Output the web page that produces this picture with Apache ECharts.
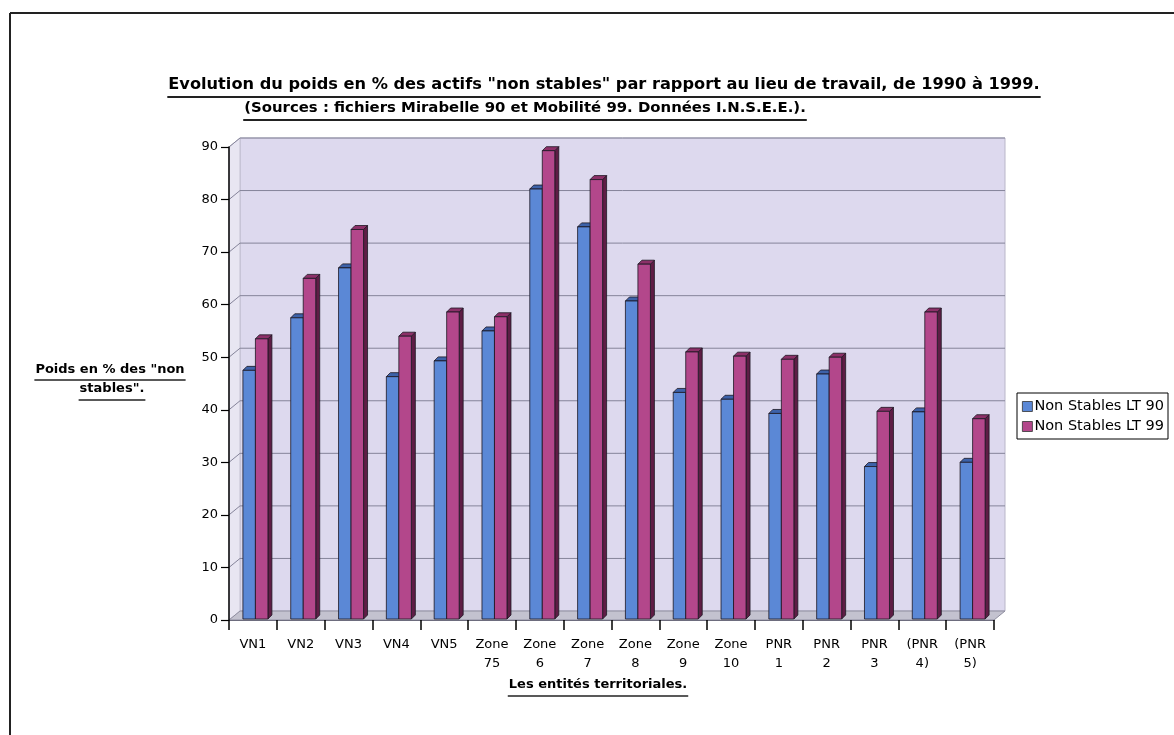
<!DOCTYPE html>
<html>
<head>
<meta charset="utf-8">
<script src="https://cdn.jsdelivr.net/npm/echarts@6/dist/echarts.min.js"></script>
<style>html,body{margin:0;padding:0;background:#fff}#c{width:1174px;height:735px}</style>
</head>
<body>
<div id="c"></div>
<script>
const categories = ['VN1','VN2','VN3','VN4','VN5','Zone\n75','Zone\n6','Zone\n7','Zone\n8','Zone\n9','Zone\n10','PNR\n1','PNR\n2','PNR\n3','(PNR\n4)','(PNR\n5)'];
const lt90 = [47.5,57.5,67,46.3,49.3,55,82,74.8,60.7,43.3,42,39.3,46.8,29.2,39.6,30];
const lt99 = [53.5,65,74.3,54,58.6,57.7,89.3,83.8,67.7,51,50.2,49.6,50,39.7,58.6,38.3];
const yTicks = [0,10,20,30,40,50,60,70,80,90];
const seriesNames = ['Non Stables LT 90','Non Stables LT 99'];
const titleLines = ['Evolution du poids en % des actifs "non stables" par rapport au lieu de travail, de 1990 à 1999.','(Sources : fichiers Mirabelle 90 et Mobilité 99. Données I.N.S.E.E.).'];
const yNameLines = ['Poids en % des "non','stables".'];
const xName = 'Les entités territoriales.';

const FONT = "'DejaVu Sans', Verdana, sans-serif";
const chart = echarts.init(document.getElementById('c'));
const DX = 11, DY = 9;

const ctx = document.createElement('canvas').getContext('2d');
function textW(t, f){ ctx.font = f; return ctx.measureText(t).width; }
function fitSize(text, weight, target, maxSize){
  const w = textW(text, weight + ' 20px ' + FONT);
  return Math.min(maxSize, 20 * target / w);
}

function underlined(text, cx, cy, size, weight, ulOffset, ulWidth){
  const f = weight + ' ' + size.toFixed(2) + 'px ' + FONT;
  const w = textW(text, f);
  return [
    {type:'text', left: cx - w/2, top: cy - size*0.6, style:{text:text, font:f, fill:'#000'}},
    {type:'line', shape:{x1:cx - w/2 - 1, y1:cy + ulOffset, x2:cx + w/2 + 1, y2:cy + ulOffset}, style:{stroke:'#222', lineWidth:ulWidth}}
  ];
}

function barRenderer(offset, face, top, side){
  return function(params, api){
    const i = api.value(0), v = api.value(1);
    const pt = api.coord([i, v]);
    const pb = api.coord([i, 0]);
    const xl = pt[0] + offset, xr = xl + 12.5, yt = pt[1], yb = pb[1] - 1;
    const d = 4;
    const st = '#1c1622';
    return {type:'group', children:[
      {type:'polygon', shape:{points:[[xr,yt],[xr+d,yt-d],[xr+d,yb-d],[xr,yb]]}, style:{fill:side, stroke:st, lineWidth:0.8}},
      {type:'polygon', shape:{points:[[xl,yt],[xl+d,yt-d],[xr+d,yt-d],[xr,yt]]}, style:{fill:top, stroke:st, lineWidth:0.8}},
      {type:'rect', shape:{x:xl, y:yt, width:xr-xl, height:yb-yt}, style:{fill:face, stroke:st, lineWidth:0.8}}
    ]};
  };
}

function frameRenderer(params, api){
  const cs = params.coordSys;
  const x = cs.x, w = cs.width;
  const y0 = api.coord([0, 0])[1];
  const yMax = api.coord([0, yTicks[yTicks.length-1]])[1];
  const ch = [];
  ch.push({type:'rect', shape:{x:x+DX, y:yMax-DY, width:w, height:y0-yMax}, style:{fill:'#ddd9ee', stroke:'#b9b6c9', lineWidth:1}});
  ch.push({type:'polygon', shape:{points:[[x,y0],[x,yMax],[x+DX,yMax-DY],[x+DX,y0-DY]]}, style:{fill:'#e8e6f2', stroke:'#c4c2d2', lineWidth:1}});
  ch.push({type:'polygon', shape:{points:[[x,y0],[x+DX,y0-DY],[x+w+DX,y0-DY],[x+w,y0]]}, style:{fill:'#c3c2cf', stroke:'#8f8ea0', lineWidth:1}});
  yTicks.forEach(function(t){
    if (t === 0) return;
    const yy = api.coord([0, t])[1];
    ch.push({type:'polyline', shape:{points:[[x,yy],[x+DX,yy-DY],[x+w+DX,yy-DY]]}, style:{stroke:'#85849a', lineWidth:1, fill:null}});
  });
  return {type:'group', children:ch};
}

const graphics = [];
graphics.push({type:'line', shape:{x1:10, y1:13, x2:1174, y2:13}, style:{stroke:'#222', lineWidth:2}});
graphics.push({type:'line', shape:{x1:10, y1:13, x2:10, y2:735}, style:{stroke:'#222', lineWidth:2}});
underlined(titleLines[0], 604, 87, fitSize(titleLines[0], 'bold', 872, 16.5), 'bold', 10, 2).forEach(g=>graphics.push(g));
underlined(titleLines[1], 525, 110, fitSize(titleLines[1], 'bold', 562, 16.5), 'bold', 10, 2).forEach(g=>graphics.push(g));
underlined(yNameLines[0], 110, 371, fitSize(yNameLines[0], 'bold', 154, 13), 'bold', 9, 1.5).forEach(g=>graphics.push(g));
underlined(yNameLines[1], 112, 390, fitSize(yNameLines[0], 'bold', 154, 13), 'bold', 10, 1.5).forEach(g=>graphics.push(g));
underlined(xName, 598, 686, fitSize(xName, 'bold', 208, 13), 'bold', 10, 1.5).forEach(g=>graphics.push(g));

chart.setOption({
  animation:false,
  backgroundColor:'#ffffff',
  textStyle:{fontFamily:FONT},
  grid:{left:229, right:180, top:147, bottom:115, containLabel:false},
  legend:{
    data:seriesNames, orient:'vertical', left:1017, top:393,
    itemWidth:10, itemHeight:10, itemGap:5, icon:'rect',
    padding:[6,4,5,5], borderColor:'#000', borderWidth:1,
    textStyle:{fontSize:14.5, color:'#000', fontFamily:FONT, padding:[0,0,0,-3]},
    itemStyle:{borderColor:'#333', borderWidth:0.8}
  },
  xAxis:{
    type:'category', data:categories, z:5,
    axisLine:{lineStyle:{color:'#6d6c7d', width:1}},
    axisTick:{show:true, length:10, lineStyle:{color:'#000', width:1.5}},
    axisLabel:{color:'#000', fontSize:13, lineHeight:19, margin:15, interval:0, fontFamily:FONT},
    splitLine:{show:false}
  },
  yAxis:{
    type:'value', min:0, max:90, interval:10, z:5,
    axisLine:{show:true, lineStyle:{color:'#000', width:1.5}},
    axisTick:{show:true, length:8, lineStyle:{color:'#000', width:1.2}},
    axisLabel:{color:'#000', fontSize:13, margin:11, fontFamily:FONT},
    splitLine:{show:false}
  },
  graphic:graphics,
  series:[
    {type:'custom', name:'frame', z:1, renderItem:frameRenderer, data:[[0,0]], encode:{x:0,y:1}, silent:true},
    {type:'custom', name:seriesNames[0], z:3, renderItem:barRenderer(-10, '#5b88d6', '#3d62a9', '#2b4585'),
      itemStyle:{color:'#5b88d6'}, encode:{x:0,y:1}, data:lt90.map((v,i)=>[i,v])},
    {type:'custom', name:seriesNames[1], z:4, renderItem:barRenderer(2.5, '#b3478b', '#8c3068', '#5e1d45'),
      itemStyle:{color:'#b3478b'}, encode:{x:0,y:1}, data:lt99.map((v,i)=>[i,v])}
  ]
});
</script>
</body>
</html>
